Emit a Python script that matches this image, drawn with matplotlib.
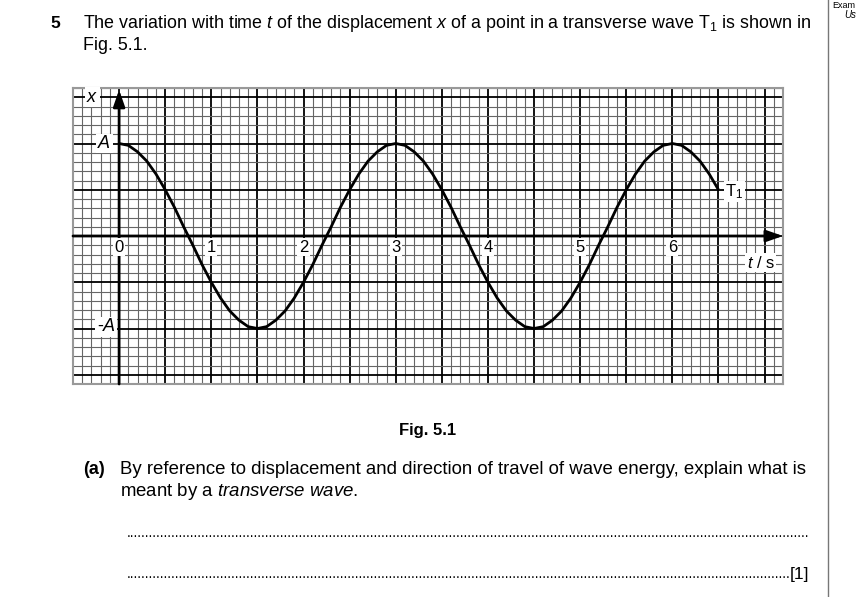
import numpy as np
import matplotlib.pyplot as plt
from matplotlib.ticker import MultipleLocator

plt.rcParams['font.family'] = ['Liberation Sans', 'DejaVu Sans']
plt.rcParams['mathtext.fontset'] = 'custom'
plt.rcParams['mathtext.rm'] = 'Liberation Sans'
plt.rcParams['mathtext.it'] = 'Liberation Sans:italic'
plt.rcParams['mathtext.bf'] = 'Liberation Sans:bold'

# values (displacement in units of A, every 0.1 s)
time_s = [round(0.1 * i, 1) for i in range(66)]
displacement = [
    1.00, 0.98, 0.91, 0.81, 0.67, 0.50, 0.31, 0.10, -0.10, -0.31,
    -0.50, -0.67, -0.81, -0.91, -0.98, -1.00, -0.98, -0.91, -0.81, -0.67,
    -0.50, -0.31, -0.10, 0.10, 0.31, 0.50, 0.67, 0.81, 0.91, 0.98,
    1.00, 0.98, 0.91, 0.81, 0.67, 0.50, 0.31, 0.10, -0.10, -0.31,
    -0.50, -0.67, -0.81, -0.91, -0.98, -1.00, -0.98, -0.91, -0.81, -0.67,
    -0.50, -0.31, -0.10, 0.10, 0.31, 0.50, 0.67, 0.81, 0.91, 0.98,
    1.00, 0.98, 0.91, 0.81, 0.67, 0.50,
]
t_labels = ['0', '1', '2', '3', '4', '5', '6']
t_label_pos = [0, 1, 2, 3, 4, 5, 6]

W, H = 857, 597


def fx(px):
    return px / W


def fy(py):
    return 1 - py / H


fig = plt.figure(figsize=(W / 100, H / 100), dpi=100)

# question text
fig.text(fx(50), fy(24), '5', fontsize=12.5, fontweight='bold', va='center')
fig.text(fx(83), fy(24),
         r'The variation with time $t$ of the displacement $x$ of a point in a transverse wave T$_1$ is shown in',
         fontsize=12.85, va='center')
fig.text(fx(83), fy(45), 'Fig. 5.1.', fontsize=12.85, va='center')

# examiner's margin
fig.add_artist(plt.Line2D([fx(828), fx(828)], [0, 1], color='#777777', lw=1))
fig.text(fx(832), fy(5), 'Exam', fontsize=6.5, va='center')
fig.text(fx(844), fy(15), 'Us', fontsize=7, style='italic', va='center')

ax = fig.add_axes([fx(73), fy(384), fx(783) - fx(73), fy(88) - fy(384)])
ax.set_xlim(-0.5, 7.2)
ax.set_ylim(-1.6, 1.6)
ax.xaxis.set_minor_locator(MultipleLocator(0.1))
ax.xaxis.set_major_locator(MultipleLocator(0.5))
ax.yaxis.set_minor_locator(MultipleLocator(0.1))
ax.yaxis.set_major_locator(MultipleLocator(0.5))
ax.grid(which='minor', color='#666666', lw=0.8)
ax.grid(which='major', color='black', lw=1.3)
ax.tick_params(which='both', length=0, labelbottom=False, labelleft=False)
for s in ax.spines.values():
    s.set_color('#999999')
    s.set_linewidth(1.5)
ax.set_axisbelow(True)

# axes with arrows
ax.annotate('', xy=(7.2, 0), xytext=(-0.5, 0),
            arrowprops=dict(arrowstyle='-|>,head_length=1.0,head_width=0.35',
                            lw=2, color='black', shrinkA=0, shrinkB=0))
ax.annotate('', xy=(0, 1.58), xytext=(0, -1.6),
            arrowprops=dict(arrowstyle='-|>,head_length=1.0,head_width=0.35',
                            lw=2, color='black', shrinkA=0, shrinkB=0))

ax.plot(time_s, displacement, color='black', lw=2, solid_capstyle='butt')

box = dict(facecolor='white', edgecolor='none', pad=1)
for p, lab in zip(t_label_pos, t_labels):
    ax.text(p, -0.12, lab, fontsize=12, ha='center', va='center', bbox=box)
ax.text(6.96, -0.29, r'$t$ / s', fontsize=12, ha='center', va='center', bbox=box)
ax.text(-0.29, 1.5, r'$x$', fontsize=13, ha='center', va='center', bbox=box)
ax.text(-0.16, 1.0, r'$A$', fontsize=13, ha='center', va='center', bbox=box)
ax.text(-0.14, -0.98, r'-$A$', fontsize=13, ha='center', va='center', bbox=box)
ax.text(6.67, 0.48, r'T$_1$', fontsize=12, ha='center', va='center', bbox=box)

fig.text(fx(428), fy(430), 'Fig. 5.1', fontsize=12, fontweight='bold', ha='center', va='center')

fig.text(fx(83), fy(470), '(a)', fontsize=13, fontweight='bold', va='center')
fig.text(fx(120), fy(470),
         'By reference to displacement and direction of travel of wave energy, explain what is',
         fontsize=13.4, va='center')
fig.text(fx(120), fy(491), r'meant by a $\mathit{transverse\ wave}$.', fontsize=13.4, va='center')

fig.text(fx(127), fy(533), '.' * 182, fontsize=10, va='center')
fig.text(fx(127), fy(574), '.' * 177, fontsize=10, va='center')
fig.text(fx(809), fy(575), '[1]', fontsize=12.5, ha='right', va='center')

fig.savefig('out.png', dpi=100)
